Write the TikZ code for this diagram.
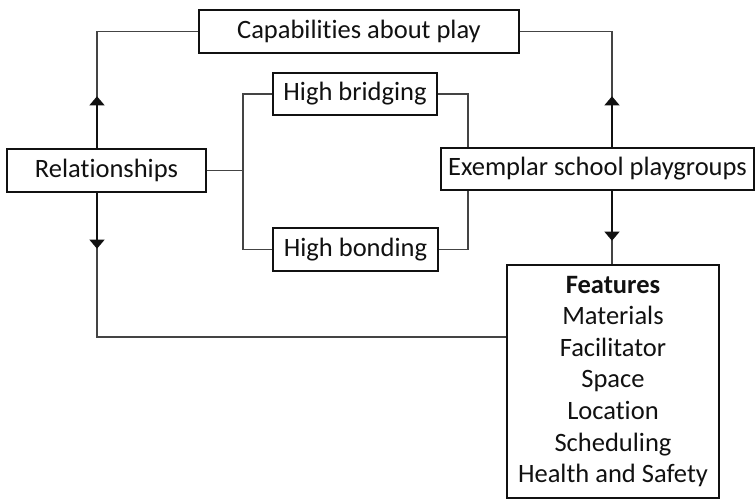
\documentclass[tikz,border=0pt]{standalone}
\usepackage{fontspec}
\setmainfont{Carlito}[Ligatures=NoCommon]
\usepackage{tikz}
\usetikzlibrary{calc,arrows.meta}
\definecolor{ink}{HTML}{111111}
\definecolor{wire}{HTML}{444444}
\tikzset{
  box/.style={draw=ink, line width=1.4pt, fill=white, text=ink, inner sep=0pt,
    font=\fontsize{26.5}{31.6}\selectfont},
  link/.style={draw=wire, line width=1.1pt},
  tip/.style={-{Triangle[length=9pt,width=15pt]}, draw=ink},
}
\begin{document}
\begin{tikzpicture}[x=1pt,y=-1pt]
  \useasboundingbox (0,0) rectangle (755,500);
  \coordinate (lx) at (97,0);
  \coordinate (rx) at (612,0);
  \coordinate (bl) at (243,0);
  \coordinate (br) at (468,0);
  \coordinate (bot) at (0,337);
  \node[box,minimum width=320,minimum height=43] (cap) at (359,31.5) {Capabilities about play};
  \node[box,minimum width=199,minimum height=43] (rel) at (106.5,170.5) {Relationships};
  \node[box,minimum width=164,minimum height=42] (brid) at (355,94) {High bridging};
  \node[box,minimum width=165,minimum height=43] (bond) at (355.5,249.5) {High bonding};
  \node[box,minimum width=313,minimum height=42] (exem) at (597.5,169) {Exemplar school playgroups};
  \node[box,minimum width=212,minimum height=233,align=center] (feat) at (613,381.5)
    {{\bfseries Features}\\Materials\\Facilitator\\Space\\Location\\Scheduling\\Health and Safety};
  % outer loop
  \draw[link] (rel.north -| lx) |- (cap.west);
  \draw[link] (exem.north -| rx) |- (cap.east);
  \draw[link] (rel.south -| lx) |- (bot -| feat.west);
  \draw[link] (exem.south -| rx) -- (feat.north -| rx);
  \draw[link,tip] (rel.north -| lx) -- ++(0,-52);
  \draw[link,tip] (exem.north -| rx) -- ++(0,-51);
  \draw[link,tip] (rel.south -| lx) -- ++(0,56);
  \draw[link,tip] (exem.south -| rx) -- ++(0,50);
  % bridging / bonding
  \draw[link] (rel.east) -- (rel.east -| bl);
  \draw[link] (brid.west) -| (bl |- bond.west) -- (bond.west);
  \draw[link] (brid.east) -| (exem.north -| br);
  \draw[link] (bond.east) -| (exem.south -| br);
\end{tikzpicture}
\end{document}
